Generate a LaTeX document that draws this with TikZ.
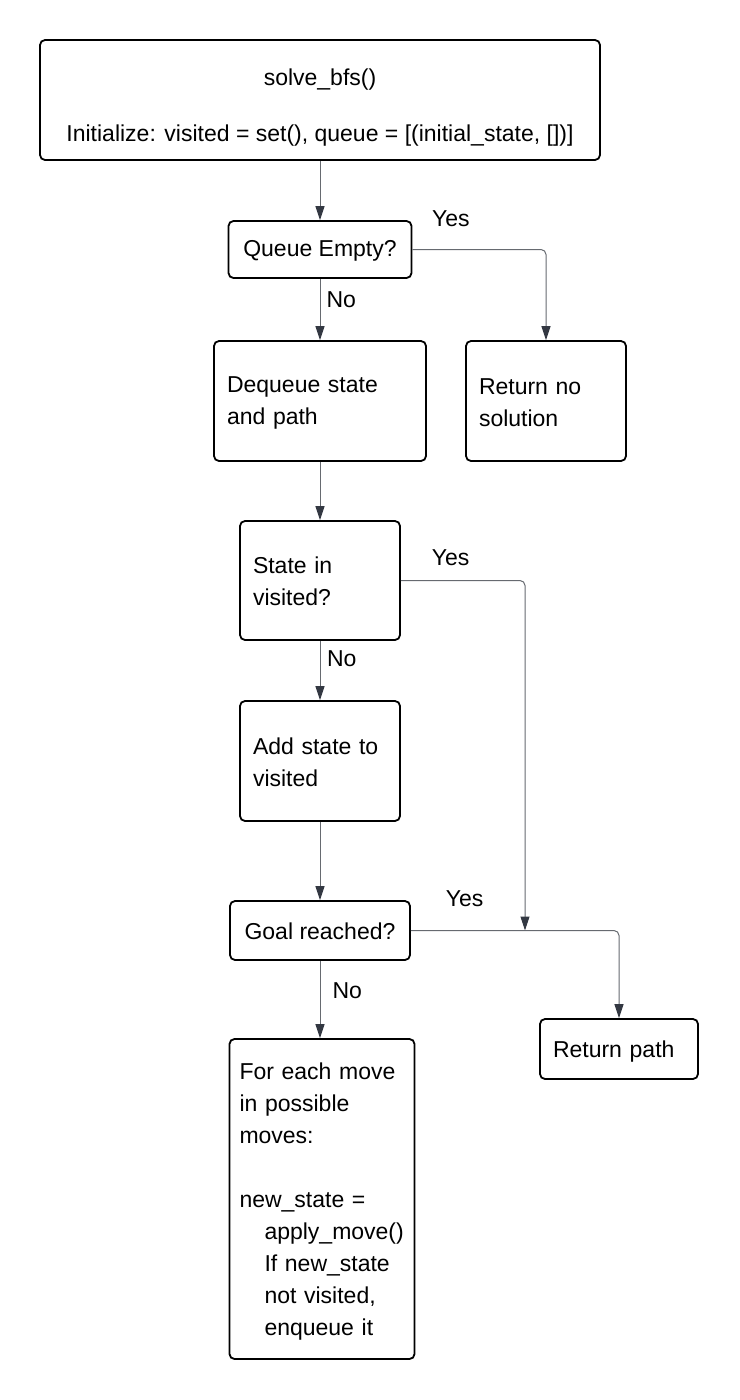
\documentclass[tikz,border=0pt]{standalone}
\usepackage{fontspec}
\setmainfont{Liberation Sans}
\usepackage{tikz}
\usepackage{xcolor}
\usetikzlibrary{arrows.meta}
\definecolor{edgegray}{RGB}{102,106,112}
\definecolor{tipgray}{RGB}{51,56,66}

\begin{document}
\begin{tikzpicture}[
  x=1pt, y=-1pt,
  font=\fontsize{23}{32}\selectfont,
  box/.style={draw, line width=1.8pt, rounded corners=5pt, align=left, inner xsep=13pt, inner ysep=0pt},
  decision/.style={draw, line width=1.8pt, rounded corners=5pt, align=center, inner sep=0pt},
  lbl/.style={inner sep=0pt},
  arrow/.style={draw=edgegray, line width=1pt, rounded corners=5pt, -{Triangle[length=14pt, width=9pt, color=tipgray, fill=tipgray]}}
]
\useasboundingbox (0,0) rectangle (739,1400);
\node[decision, minimum width=560pt, minimum height=120pt] (init) at (320,100)
  {\rule{0pt}{31pt}solve\_bfs()\\[24pt]Initialize: visited = set(), queue = [(initial\_state, [])]};
\node[decision, minimum width=183pt, minimum height=57pt] (queue) at (320,249.5) {\rule{0pt}{19pt}Queue Empty?};
\node[box, text width=186pt, minimum height=120pt] (deq) at (320,401) {\rule{0pt}{20pt}Dequeue state\\and path};
\node[box, text width=134pt, minimum height=120pt] (nosol) at (546,401) {\rule{0pt}{20pt}Return no\\solution};
\node[box, text width=134pt, minimum height=119pt] (seen) at (320,580.5) {\rule{0pt}{19pt}State in\\visited?};
\node[box, text width=134pt, minimum height=120pt] (addvis) at (320,761) {\rule{0pt}{19pt}Add state to\\visited};
\node[decision, minimum width=180pt, minimum height=59pt] (goal) at (320,930.5) {\rule{0pt}{19pt}Goal reached?};
\node[box, inner xsep=10pt, text width=165pt, minimum height=320pt] (moves) at (322,1199)
  {\rule{0pt}{22pt}For each move\\in possible\\moves:\\[32pt]new\_state =\\\hspace*{25pt}apply\_move()\\\hspace*{25pt}If new\_state\\\hspace*{25pt}not visited,\\\hspace*{25pt}enqueue it};
\node[box, text width=132pt, minimum height=60pt] (found) at (619,1049) {\rule{0pt}{21pt}Return path};
\coordinate (join) at (525,930.5);
% connectors
\draw[arrow] (init.south) -- (queue.north);
\draw[arrow] (queue.east) -| node[lbl, pos=0.144, above=21.8pt] {Yes} (nosol.north);
\draw[arrow] (queue.south) -- node[lbl, pos=0.34, right=6pt] {No} (deq.north);
\draw[arrow] (deq.south) -- (seen.north);
\draw[arrow] (seen.east) -| node[lbl, pos=0.2, above=14pt] {Yes} (join);
\draw[arrow] (seen.south) -- node[lbl, pos=0.3, right=6.5pt] {No} (addvis.north);
\draw[arrow] (addvis.south) -- (goal.north);
\draw[arrow] (goal.east) -| node[lbl, pos=0.129, above=23.7pt] {Yes} (found.north);
\draw[arrow] (goal.south) -- node[lbl, pos=0.38, right=12pt] {No} (goal.south |- moves.north);
\end{tikzpicture}
\end{document}
